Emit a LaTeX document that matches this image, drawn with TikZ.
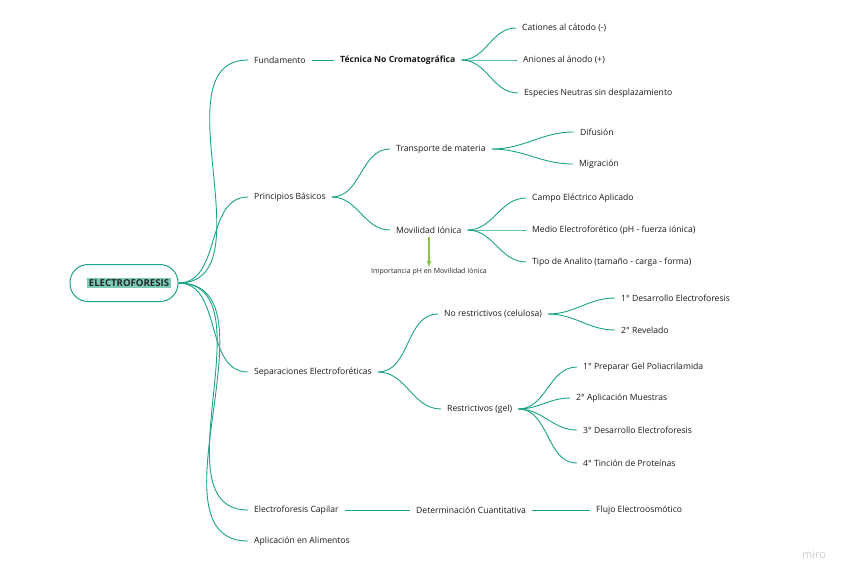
\documentclass[tikz,border=0pt]{standalone}
\usepackage{fontspec}
\setmainfont{Open Sans}
\usetikzlibrary{positioning}
\definecolor{mirogruen}{RGB}{26,163,134}
\definecolor{markierung}{RGB}{122,204,182}
\definecolor{pfeilgruen}{RGB}{139,195,74}
\begin{document}
\begin{tikzpicture}[x=1pt, y=-1pt, >=latex,
    thema/.style={anchor=west, inner xsep=6pt, inner ysep=3pt,
      font=\fontsize{8.6}{10}\selectfont, text=black!90},
    fett/.style={thema, font=\fontsize{8.6}{10}\selectfont\bfseries},
    ast/.style={mirogruen, line width=0.9pt},
  ]
\useasboundingbox (0,0) rectangle (848,579);

% Wurzel
\node[draw=mirogruen, line width=1pt, rounded corners=18pt,
  minimum width=108pt, minimum height=37pt, inner sep=0pt,
  font=\fontsize{9.6}{11}\selectfont\bfseries, text=black!85] (root) at (124,283)
  {\hspace{10pt}\fboxsep=1.8pt\colorbox{markierung}{ELECTROFORESIS}};

% Hauptaeste
\node[thema] (fund) at (248,60) {Fundamento};
\node[thema] (prin) at (248,197) {Principios Básicos};
\node[thema] (sep) at (248,372) {Separaciones Electroforéticas};
\node[thema] (cap) at (248,510) {Electroforesis Capilar};
\node[thema] (alim) at (248,541) {Aplicación en Alimentos};

\foreach \k in {fund,prin,sep,cap,alim}
  \draw[ast] (root.east) to[out=0, in=180] (\k.west);

% Fundamento
\node[fett] (tec) at (334,60) {Técnica No Cromatográfica};
\draw[ast] (fund.east) -- (tec.west);

\node[thema] (cat) at (516,28) {Cationes al cátodo (-)};
\node[thema] (ani) at (517,60) {Aniones al ánodo (+)};
\node[thema] (esp) at (518,93) {Especies Neutras sin desplazamiento};

\foreach \k in {cat,ani,esp}
  \draw[ast] (tec.east) to[out=0, in=180] (\k.west);

% Principios Basicos
\node[thema] (tra) at (390,149) {Transporte de materia};
\node[thema] (mov) at (390,230) {Movilidad Iónica};

\foreach \k in {tra,mov}
  \draw[ast] (prin.east) to[out=0, in=180] (\k.west);

\node[thema] (dif) at (574,132) {Difusión};
\node[thema] (mig) at (573,164) {Migración};

\foreach \k in {dif,mig}
  \draw[ast] (tra.east) to[out=0, in=180] (\k.west);

\node[thema] (campo) at (526,198) {Campo Eléctrico Aplicado};
\node[thema] (medio) at (526,230) {Medio Electroforético (pH - fuerza iónica)};
\node[thema] (tipo) at (526,262) {Tipo de Analito (tamaño - carga - forma)};

\foreach \k in {campo,medio,tipo}
  \draw[ast] (mov.east) to[out=0, in=180] (\k.west);

% Hinweis zur Movilidad
\node[font=\fontsize{7}{8}\selectfont, text=black!85, inner sep=1pt] (imp) at (429,272)
  {Importancia pH en Movilidad Iónica};
\draw[->, pfeilgruen, line width=1.2pt] (mov.south -| imp.north) -- (imp.north);

% Separaciones
\node[thema] (nores) at (438,314) {No restrictivos (celulosa)};
\node[thema] (res) at (441,409) {Restrictivos (gel)};

\foreach \k in {nores,res}
  \draw[ast] (sep.east) to[out=0, in=180] (\k.west);

\node[thema] (des1) at (615,298) {1° Desarrollo Electroforesis};
\node[thema] (rev) at (615,330) {2° Revelado};

\foreach \k in {des1,rev}
  \draw[ast] (nores.east) to[out=0, in=180] (\k.west);

\node[thema] (gel) at (577,367) {1° Preparar Gel Poliacrilamida};
\node[thema] (mue) at (570,398) {2° Aplicación Muestras};
\node[thema] (des3) at (577,430) {3° Desarrollo Electroforesis};
\node[thema] (tin) at (577,463) {4° Tinción de Proteínas};

\foreach \k in {gel,mue,des3,tin}
  \draw[ast] (res.east) to[out=0, in=180] (\k.west);

% Capilar
\node[thema] (det) at (410,510) {Determinación Cuantitativa};
\node[thema] (flu) at (590,510) {Flujo Electroosmótico};
\draw[ast] (cap.east) -- (det.west);
\draw[ast] (det.east) -- (flu.west);

% Logo
\node[font=\fontsize{11}{12}\selectfont, text=black!20] (logo) at (814,555) {miro};

\end{tikzpicture}
\end{document}
